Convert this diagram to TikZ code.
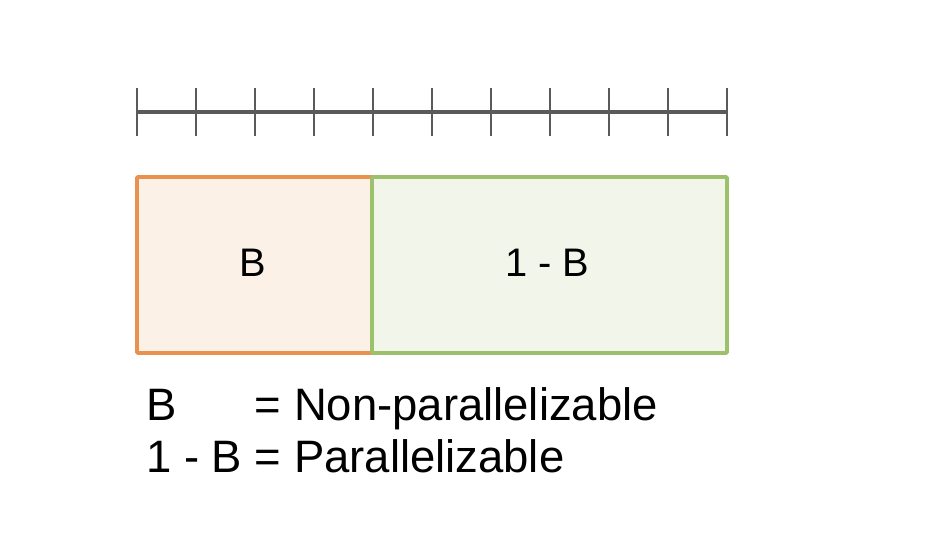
\documentclass[tikz,border=0pt]{standalone}
\usepackage{fontspec}
\setmainfont{Liberation Sans}
\definecolor{rulergray}{HTML}{5A5A5A}
\definecolor{serialline}{HTML}{E9914F}
\definecolor{serialfill}{HTML}{FCF1E6}
\definecolor{parline}{HTML}{9DC16A}
\definecolor{parfill}{HTML}{F2F6EA}
\tikzset{part/.style={line width=3.4pt,rounded corners=1pt}}
\begin{document}
\begin{tikzpicture}[x=0.03cm,y=-0.03cm,font=\fontsize{34}{41}\selectfont]
    \useasboundingbox (0,0) rectangle (944,552);
    % ruler
    \draw[rulergray,line width=3.8pt] (137,112)--(727,112);
    \foreach \i in {0,...,10}
        \draw[rulergray,line width=2.5pt] (137+59*\i,88)--(137+59*\i,136);
    % serial and parallel parts
    \draw[part,draw=serialline,fill=serialfill] (137,177) rectangle (372,353);
    \draw[part,draw=parline,fill=parfill] (372,177) rectangle (727,353);
    \node[anchor=base] (serial) at (253,276) {B};
    \node[anchor=base] (parallel) at (547.5,276) {1 - B};
    % legend
    \node[anchor=base west,inner sep=0pt,font=\fontsize{38.8}{44.5}\selectfont] (legend) at (146,420)
        {\begin{tabular}[t]{@{}l@{ }l@{}}B & = Non-parallelizable\\1 - B & = Parallelizable\end{tabular}};
\end{tikzpicture}
\end{document}
